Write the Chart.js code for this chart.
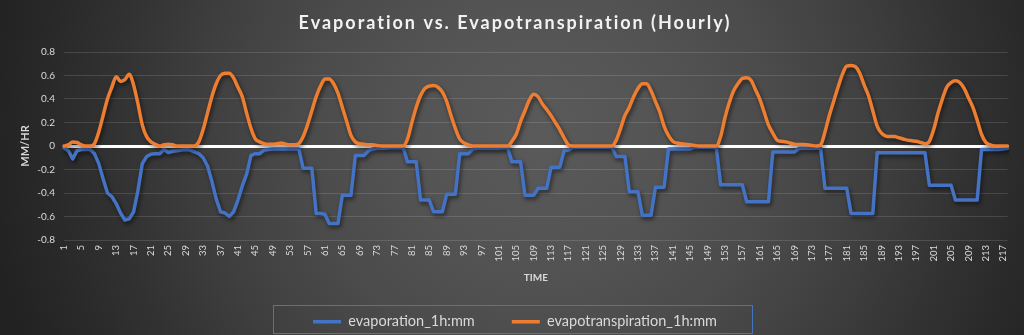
<!DOCTYPE html>
<html>
<head>
<meta charset="utf-8">
<script src="https://cdn.jsdelivr.net/npm/chart.js@4.4.1/dist/chart.umd.min.js"></script>
<style>
  html, body { margin: 0; padding: 0; background: #222; }
  #wrap {
    width: 1024px; height: 335px; position: relative; overflow: hidden;
    background: radial-gradient(circle 560px at 540px 130px,
      #5a5a5a 0%, #545454 22%, #4b4b4b 42%, #3f3f3f 60%, #323232 76%, #282828 90%, #222222 100%);
  }
  canvas { display: block; }
</style>
</head>
<body>
<div id="wrap"><canvas id="c" width="1024" height="335"></canvas></div>
<script>
const chartTitle = 'Evaporation vs. Evapotranspiration (Hourly)';
const xAxisTitle = 'TIME';
const yAxisTitle = 'MM/HR';
const seriesNames = ['evaporation_1h:mm', 'evapotranspiration_1h:mm'];

// hour index 1..218
const hours = Array.from({length: 218}, (_, i) => String(i + 1));

const evaporation = [
  -0.015, -0.04, -0.11, -0.04, -0.03, -0.03, -0.03, -0.065, -0.15, -0.28,
  -0.40, -0.43, -0.49, -0.57, -0.63, -0.62, -0.56, -0.38, -0.15, -0.09,
  -0.07, -0.065, -0.065, -0.03, -0.055, -0.045, -0.04, -0.035, -0.03, -0.035,
  -0.05, -0.065, -0.10, -0.17, -0.30, -0.45, -0.56, -0.57, -0.60, -0.56,
  -0.46, -0.34, -0.24, -0.08, -0.065, -0.065, -0.035, -0.03, -0.025, -0.025,
  -0.025, -0.025, -0.025, -0.025, -0.025, -0.19, -0.19, -0.19, -0.575, -0.575,
  -0.58, -0.66, -0.66, -0.66, -0.42, -0.42, -0.42, -0.08, -0.08, -0.08,
  -0.04, -0.025, -0.02, -0.02, -0.02, -0.015, -0.015, -0.015, -0.015, -0.135,
  -0.135, -0.135, -0.46, -0.46, -0.46, -0.56, -0.56, -0.56, -0.41, -0.41,
  -0.41, -0.065, -0.065, -0.065, -0.025, -0.02, -0.02, -0.02, -0.02, -0.02,
  -0.02, -0.015, -0.015, -0.135, -0.135, -0.135, -0.42, -0.42, -0.42, -0.36,
  -0.36, -0.36, -0.18, -0.18, -0.18, -0.04, -0.035, -0.01, -0.01, -0.01,
  -0.01, -0.01, -0.01, -0.01, -0.01, -0.01, -0.01, -0.09, -0.09, -0.09,
  -0.39, -0.39, -0.39, -0.59, -0.59, -0.59, -0.35, -0.35, -0.35, -0.025,
  -0.025, -0.025, -0.025, -0.025, -0.025, -0.01, -0.01, -0.01, -0.01, -0.01,
  -0.01, -0.33, -0.33, -0.33, -0.33, -0.33, -0.33, -0.475, -0.475, -0.475,
  -0.475, -0.475, -0.475, -0.05, -0.05, -0.05, -0.05, -0.05, -0.05, -0.02,
  -0.02, -0.02, -0.02, -0.02, -0.02, -0.36, -0.36, -0.36, -0.36, -0.36,
  -0.36, -0.575, -0.575, -0.575, -0.575, -0.575, -0.575, -0.058, -0.058, -0.058,
  -0.058, -0.058, -0.058, -0.058, -0.058, -0.058, -0.058, -0.058, -0.058, -0.333,
  -0.333, -0.333, -0.333, -0.333, -0.333, -0.46, -0.46, -0.46, -0.46, -0.46,
  -0.46, -0.03, -0.03, -0.03, -0.03, -0.03, -0.025, -0.02
];

const evapotranspiration = [
  0, 0.01, 0.035, 0.03, 0.01, 0, 0, 0.02, 0.12, 0.26,
  0.40, 0.50, 0.59, 0.55, 0.565, 0.61, 0.52, 0.36, 0.18, 0.08,
  0.035, 0.015, 0, 0.01, 0.015, 0.01, 0, 0, 0, 0,
  0, 0.035, 0.14, 0.28, 0.42, 0.53, 0.60, 0.62, 0.62, 0.58,
  0.50, 0.42, 0.28, 0.15, 0.06, 0.035, 0.02, 0.015, 0.015, 0.02,
  0.025, 0.015, 0.01, 0.01, 0.02, 0.08, 0.18, 0.30, 0.42, 0.51,
  0.57, 0.57, 0.53, 0.45, 0.33, 0.21, 0.09, 0.035, 0.02, 0.015,
  0.01, 0.01, 0.005, 0, 0, 0, 0, 0, 0, 0.06,
  0.20, 0.33, 0.43, 0.49, 0.51, 0.515, 0.50, 0.46, 0.38, 0.26,
  0.15, 0.06, 0.025, 0.01, 0, 0, 0, 0, 0, 0,
  0, 0, 0, 0.04, 0.10, 0.21, 0.30, 0.39, 0.44, 0.42,
  0.36, 0.31, 0.26, 0.20, 0.14, 0.07, 0.01, 0, 0, 0,
  0, 0, 0, 0, 0, 0, 0, 0.05, 0.15, 0.26,
  0.33, 0.42, 0.49, 0.53, 0.53, 0.47, 0.38, 0.29, 0.17, 0.09,
  0.04, 0.025, 0.02, 0.015, 0.01, 0.005, 0, 0, 0, 0,
  0, 0.08, 0.24, 0.37, 0.47, 0.53, 0.575, 0.58, 0.56, 0.48,
  0.40, 0.29, 0.18, 0.11, 0.05, 0.04, 0.035, 0.025, 0.015, 0.013,
  0.013, 0.01, 0.005, 0, 0.01, 0.12, 0.26, 0.38, 0.50, 0.61,
  0.68, 0.685, 0.675, 0.62, 0.52, 0.43, 0.30, 0.17, 0.11, 0.085,
  0.08, 0.08, 0.07, 0.06, 0.05, 0.045, 0.04, 0.03, 0.02, 0.04,
  0.14, 0.28, 0.40, 0.50, 0.54, 0.555, 0.54, 0.49, 0.41, 0.33,
  0.22, 0.10, 0.03, 0.01, 0, 0, 0, 0
];

const yTicks = { min: -0.8, max: 0.8, step: 0.2 };
const labelEvery = 4;

const FONT = 'Lato, "Open Sans", "Liberation Sans", sans-serif';
const TEXT = '#d9d9d9';

const lineShadow = {
  id: 'lineShadow',
  beforeDatasetDraw(chart) {
    const c = chart.ctx;
    c.save();
    c.shadowColor = 'rgba(0,0,0,0.55)';
    c.shadowBlur = 4;
    c.shadowOffsetX = 1.5;
    c.shadowOffsetY = 2.5;
  },
  afterDatasetDraw(chart) { chart.ctx.restore(); }
};

// widen the chart title's letter spacing (as in the Excel original)
const titleSpacing = {
  id: 'titleSpacing',
  beforeDraw(chart) {
    const tb = chart.titleBlock;
    if (tb && !tb._spaced) {
      const orig = tb.draw.bind(tb);
      tb.draw = function (area) {
        const c = this.ctx;
        c.save();
        c.letterSpacing = '2px';
        orig(area);
        c.restore();
      };
      tb._spaced = true;
    }
  }
};

const legendBorder = {
  id: 'legendBorder',
  afterDraw(chart) {
    const lg = chart.legend;
    const hb = lg && lg.legendHitBoxes;
    if (!hb || !hb.length) return;
    const l = Math.min(...hb.map(h => h.left));
    const r = Math.max(...hb.map(h => h.left + h.width));
    const c = chart.ctx;
    c.save();
    c.strokeStyle = '#4472c4';
    c.lineWidth = 1;
    c.strokeRect(Math.round(l - 40) + 0.5, 305.5, Math.round(r - l + 75), 28);
    c.restore();
  }
};

new Chart(document.getElementById('c'), {
  type: 'line',
  data: {
    labels: hours,
    datasets: [
      {
        label: seriesNames[0],
        data: evaporation,
        borderColor: '#4472c4',
        backgroundColor: '#4472c4',
        borderWidth: 3.5,
        pointRadius: 0,
        tension: 0,
        borderJoinStyle: 'round',
        borderCapStyle: 'round'
      },
      {
        label: seriesNames[1],
        data: evapotranspiration,
        borderColor: '#ed7d31',
        backgroundColor: '#ed7d31',
        borderWidth: 3.5,
        pointRadius: 0,
        cubicInterpolationMode: 'monotone',
        borderJoinStyle: 'round',
        borderCapStyle: 'round',
        order: -1
      }
    ]
  },
  options: {
    responsive: false,
    animation: false,
    layout: { padding: { left: 21, right: 15, top: 0, bottom: -4 } },
    plugins: {
      tooltip: { enabled: false },
      title: {
        display: true,
        text: chartTitle,
        color: '#f2f2f2',
        font: { family: FONT, size: 18, weight: 'bold' },
        padding: { top: 12, bottom: 18.4 }
      },
      legend: {
        position: 'bottom',
        labels: {
          color: TEXT,
          font: { family: FONT, size: 14.5 },
          usePointStyle: true,
          pointStyle: 'line',
          pointStyleWidth: 28,
          padding: 37,
          sort: (a, b) => a.datasetIndex - b.datasetIndex
        }
      }
    },
    scales: {
      x: {
        type: 'category',
        grid: { display: false, drawTicks: false },
        border: { display: false },
        ticks: {
          autoSkip: false,
          minRotation: 90,
          maxRotation: 90,
          padding: 5,
          color: TEXT,
          font: { family: FONT, size: 9.5 },
          callback: function (val, idx) {
            return idx % labelEvery === 0 ? this.getLabelForValue(val) : '';
          }
        },
        title: {
          display: true,
          text: xAxisTitle,
          color: TEXT,
          font: { family: FONT, size: 10, weight: 'bold' },
          padding: { top: 0, bottom: -6 }
        },
        afterFit: (s) => { s.height = 339 - s.chart.legend.height - 240; }
      },
      y: {
        min: yTicks.min,
        max: yTicks.max,
        grid: {
          drawTicks: false,
          color: (ctx) => (ctx.tick && Math.abs(ctx.tick.value) < 1e-9) ? '#ffffff' : 'rgba(255,255,255,0.13)',
          lineWidth: (ctx) => (ctx.tick && Math.abs(ctx.tick.value) < 1e-9) ? 3 : 1
        },
        border: { display: false },
        ticks: {
          stepSize: yTicks.step,
          padding: 9,
          color: TEXT,
          font: { family: FONT, size: 10 }
        },
        title: {
          display: true,
          text: yAxisTitle,
          color: TEXT,
          font: { family: FONT, size: 11, weight: 'bold' },
          padding: { top: -2, bottom: 0 }
        },
        afterFit: (s) => { s.width = 43; }
      }
    }
  },
  plugins: [lineShadow, titleSpacing, legendBorder]
});
</script>
</body>
</html>
